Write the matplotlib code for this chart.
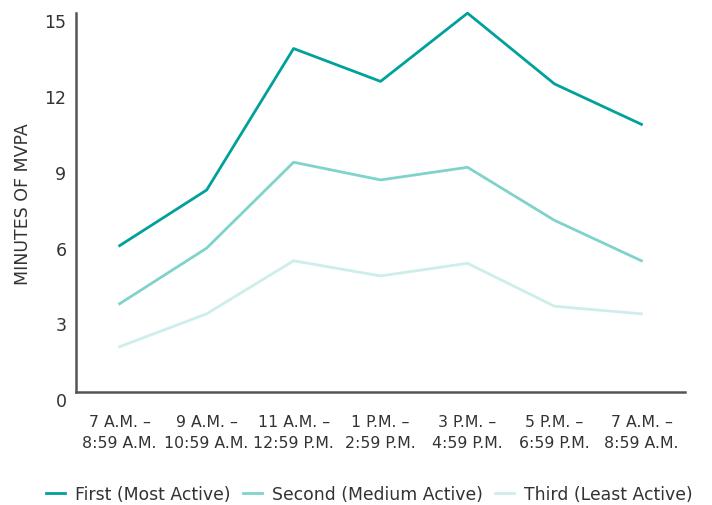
import matplotlib.pyplot as plt

plt.rcParams['font.family'] = ['DejaVu Sans']

periods = ['7 A.M. –\n8:59 A.M.', '9 A.M. –\n10:59 A.M.', '11 A.M. –\n12:59 P.M.',
           '1 P.M. –\n2:59 P.M.', '3 P.M. –\n4:59 P.M.', '5 P.M. –\n6:59 P.M.',
           '7 A.M. –\n8:59 A.M.']
first = [5.8, 8.0, 13.6, 12.3, 15.0, 12.2, 10.6]
second = [3.5, 5.7, 9.1, 8.4, 8.9, 6.8, 5.2]
third = [1.8, 3.1, 5.2, 4.6, 5.1, 3.4, 3.1]
yticks = [0, 3, 6, 9, 12, 15]

fig = plt.figure(figsize=(7.12, 5.06), dpi=100)
ax = fig.add_axes([0.107, 0.223, 0.855, 0.749])

x = range(len(periods))
ax.plot(x, first, color='#00a19a', lw=2, label='First (Most Active)', clip_on=False)
ax.plot(x, second, color='#7fd3cb', lw=2, label='Second (Medium Active)', clip_on=False)
ax.plot(x, third, color='#cdeeea', lw=2, label='Third (Least Active)', clip_on=False)

ax.set_xlim(-0.5, 6.5)
ax.set_ylim(0, 15)
ax.set_yticks(yticks)
ax.set_xticks(list(x))
ax.set_xticklabels(periods, fontsize=11.3, color='#333333', linespacing=1.45)
ax.tick_params(axis='y', length=0, pad=7, labelsize=12.5, labelcolor='#333333')
ax.tick_params(axis='x', length=0, pad=16)
for lab in ax.get_yticklabels():
    lab.set_verticalalignment('top')

for s in ['top', 'right']:
    ax.spines[s].set_visible(False)
for s in ['left', 'bottom']:
    ax.spines[s].set_color('#555555')
    ax.spines[s].set_linewidth(1.8)

ax.set_ylabel('MINUTES OF MVPA', fontsize=12.5, color='#333333', labelpad=9)

ax.legend(loc='center', bbox_to_anchor=(0.482, -0.27), ncol=3, frameon=False,
          handlelength=1.1, handletextpad=0.6, columnspacing=0.7,
          fontsize=12.4, labelcolor='#333333')

fig.savefig('out.png', dpi=100)
